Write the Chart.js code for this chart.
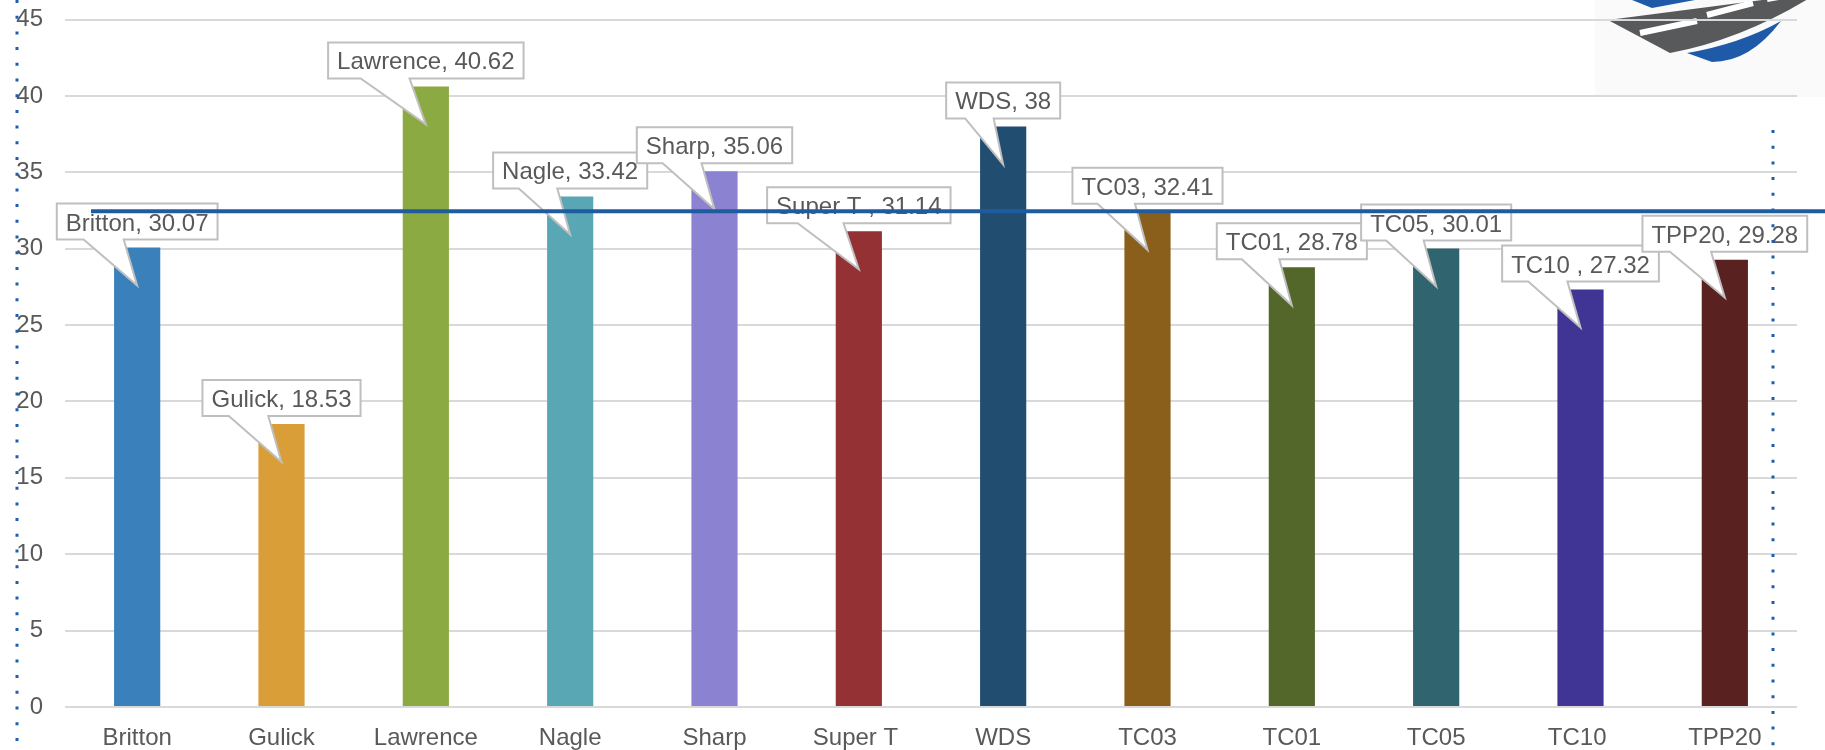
<!DOCTYPE html>
<html>
<head>
<meta charset="utf-8">
<script src="https://cdn.jsdelivr.net/npm/chart.js@4.4.1/dist/chart.umd.min.js"></script>
<style>
  body { margin: 0; background: #fff; }
  canvas { display: block; }
</style>
</head>
<body>
<canvas id="chart" width="1825" height="750"></canvas>
<script>
// data
const categories = ["Britton", "Gulick", "Lawrence", "Nagle", "Sharp", "Super T ", "WDS", "TC03", "TC01", "TC05", "TC10 ", "TPP20"];
const values = [30.07, 18.53, 40.62, 33.42, 35.06, 31.14, 38, 32.41, 28.78, 30.01, 27.32, 29.28];
const barColors = ["#3A80BB", "#D99E38", "#8BAA41", "#59A7B4", "#8B82D1", "#943135", "#214D70", "#8A5F1C", "#53672A", "#30646F", "#403594", "#5A2121"];
const yTicks = [0, 5, 10, 15, 20, 25, 30, 35, 40, 45];
const refLine = 32.45;

const FONT = "'Liberation Sans', Arial, sans-serif";
const TEXT = "#595959";

const extras = {
    id: "extras",
    beforeDraw(chart) {
        const ctx = chart.ctx;
        ctx.save();
        ctx.fillStyle = "#fff";
        ctx.fillRect(0, 0, chart.width, chart.height);
        // logo in the top right corner
        ctx.fillStyle = "#FAFAFA";
        ctx.fillRect(1595, 0, 230, 97);
        ctx.fillStyle = "#1E5AA8";
        ctx.beginPath();
        ctx.moveTo(1632, 0); ctx.lineTo(1695, 0); ctx.lineTo(1652, 8); ctx.closePath();
        ctx.fill();
        ctx.fillStyle = "#58595B";
        ctx.beginPath();
        ctx.moveTo(1608, 20); ctx.lineTo(1770, -1); ctx.lineTo(1808, -1);
        ctx.quadraticCurveTo(1740, 40, 1670, 53);
        ctx.closePath();
        ctx.fill();
        ctx.strokeStyle = "#fff";
        ctx.lineWidth = 6;
        ctx.beginPath();
        ctx.moveTo(1640, 33); ctx.lineTo(1697, 21);
        ctx.moveTo(1707, 15); ctx.lineTo(1753, 3);
        ctx.moveTo(1767, -1); ctx.lineTo(1790, -5);
        ctx.stroke();
        ctx.fillStyle = "#1E5AA8";
        ctx.beginPath();
        ctx.moveTo(1687, 53);
        ctx.quadraticCurveTo(1740, 44, 1781, 21);
        ctx.quadraticCurveTo(1750, 62, 1712, 62);
        ctx.closePath();
        ctx.fill();
        ctx.restore();
    },
    afterDatasetsDraw(chart) {
        const ctx = chart.ctx;
        const bars = chart.getDatasetMeta(0).data;
        ctx.save();
        ctx.font = "24px " + FONT;
        bars.forEach((bar, i) => {
            const label = categories[i] + ", " + values[i];
            const w = ctx.measureText(label).width + 18;
            const h = 36;
            const left = bar.x - w / 2;
            const bottom = bar.y - 8;
            const top = bottom - h;
            const tipX = bar.x, tipY = bar.y + 38;
            ctx.beginPath();
            ctx.moveTo(left, top);
            ctx.lineTo(left + w, top);
            ctx.lineTo(left + w, bottom);
            ctx.lineTo(left + w * 5 / 12, bottom);
            ctx.lineTo(tipX, tipY);
            ctx.lineTo(left + w / 6, bottom);
            ctx.lineTo(left, bottom);
            ctx.closePath();
            ctx.fillStyle = "#fff";
            ctx.fill();
            ctx.strokeStyle = "#BFBFBF";
            ctx.lineWidth = 2;
            ctx.stroke();
            ctx.fillStyle = TEXT;
            ctx.textAlign = "center";
            ctx.textBaseline = "alphabetic";
            ctx.fillText(label, left + w / 2, top + 27);
        });
        // horizontal reference line
        const yl = chart.scales.y.getPixelForValue(refLine);
        ctx.strokeStyle = "#1F5C9F";
        ctx.lineWidth = 4;
        ctx.beginPath();
        ctx.moveTo(91, yl);
        ctx.lineTo(chart.width, yl);
        ctx.stroke();
        // dotted frame lines
        ctx.strokeStyle = "#1F5FAA";
        ctx.lineWidth = 3;
        ctx.setLineDash([3, 12.7]);
        ctx.beginPath();
        ctx.moveTo(17, 0); ctx.lineTo(17, chart.height);
        ctx.moveTo(1773, 130); ctx.lineTo(1773, chart.height);
        ctx.stroke();
        ctx.restore();
    }
};

new Chart(document.getElementById("chart"), {
    type: "bar",
    data: {
        labels: categories,
        datasets: [{
            data: values,
            backgroundColor: barColors,
            borderWidth: 0,
            barPercentage: 0.32,
            categoryPercentage: 1
        }]
    },
    options: {
        responsive: false,
        animation: false,
        layout: { padding: { top: 19.5, right: 28, left: 0, bottom: 0 } },
        plugins: { legend: { display: false }, tooltip: { enabled: false } },
        scales: {
            x: {
                grid: { display: false },
                border: { display: false },
                ticks: { color: TEXT, font: { family: FONT, size: 24 }, padding: 9, maxRotation: 0, autoSkip: false },
                afterFit(scale) { scale.height = 43; scale.paddingLeft = 0; scale.paddingRight = 0; }
            },
            y: {
                min: 0,
                max: 45,
                afterBuildTicks(scale) { scale.ticks = yTicks.map(v => ({ value: v })); },
                grid: { color: "#D9D9D9", lineWidth: 2, drawTicks: false },
                border: { display: false },
                ticks: { color: TEXT, font: { family: FONT, size: 24 }, padding: 22 },
                afterFit(scale) { scale.width = 65; scale.paddingTop = 0; scale.paddingBottom = 0; }
            }
        }
    },
    plugins: [extras]
});
</script>
</body>
</html>
